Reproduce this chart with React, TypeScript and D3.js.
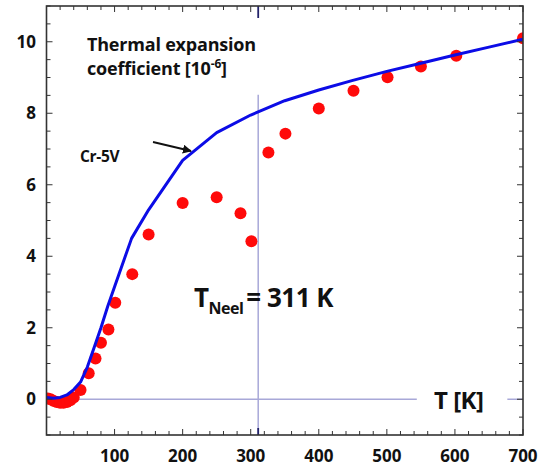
import React from "react"
import * as d3 from "d3"

const width = 548
const height = 470

// Cr-5V calculated curve
const curveT = [0, 10, 20, 30, 40, 50, 60, 70, 80, 90, 100, 125, 150, 200, 250, 300, 350, 400, 450, 500, 550, 600, 650, 700]
const curveV = [0.05, 0.03, 0.05, 0.12, 0.27, 0.48, 0.9, 1.45, 2.0, 2.6, 3.15, 4.5, 5.3, 6.68, 7.46, 7.95, 8.35, 8.65, 8.92, 9.17, 9.4, 9.63, 9.85, 10.07]

// measured points
const dotT = [2, 6, 10, 15, 20, 25, 30, 35, 40, 50, 62, 72, 80, 91, 101, 126, 150, 200, 250, 285, 301, 326, 351, 400, 451, 501, 550, 602, 700]
const dotV = [0.02, 0.0, -0.04, -0.08, -0.1, -0.1, -0.08, -0.03, 0.05, 0.26, 0.73, 1.14, 1.58, 1.95, 2.7, 3.5, 4.61, 5.49, 5.65, 5.2, 4.42, 6.9, 7.43, 8.13, 8.63, 9.01, 9.31, 9.61, 10.1]

const xMajor = [100, 200, 300, 400, 500, 600, 700]
const yMajor = [0, 2, 4, 6, 8, 10]

const tNeel = 311
const neelLineTop = 8.52
const zeroGapFrom = 544
const zeroGapTo = 677

const x = d3.scaleLinear().domain([0, 700]).range([46.5, 523])
const y = d3.scaleLinear().domain([-1, 11]).range([435, 6])

const font = "'Open Sans', Lato, sans-serif"
const frameColor = "#333"
const refColor = "#a8a8d8"

const line = d3.line<number>()
  .x((_, i) => x(curveT[i]))
  .y(d => y(d))

const xMinor = d3.range(0, 701, 20)
const yMinor = d3.range(-1, 11.01, 0.5)

export default function App() {
  const [x0, x1] = x.range()
  const [y0, y1] = y.range()
  return (
    <svg width={width} height={height} style={{ position: "absolute", left: 0, top: 0, background: "#fff" }}>
      <defs>
        <clipPath id="plot">
          <rect x={x0} y={y1} width={x1 - x0} height={y0 - y1} />
        </clipPath>
        <marker id="head" viewBox="0 0 10 10" refX="9" refY="5" markerWidth="5" markerHeight="5" orient="auto">
          <path d="M0,0 L10,5 L0,10 z" fill="#111" />
        </marker>
      </defs>

      {/* reference lines */}
      <line x1={x(0)} x2={x(zeroGapFrom)} y1={y(0)} y2={y(0)} stroke={refColor} strokeWidth={1.5} />
      <line x1={x(zeroGapTo)} x2={x(700)} y1={y(0)} y2={y(0)} stroke={refColor} strokeWidth={1.5} />
      <line x1={x(tNeel)} x2={x(tNeel)} y1={y(neelLineTop)} y2={y0} stroke={refColor} strokeWidth={1.5} />
      <line x1={x(tNeel)} x2={x(tNeel)} y1={y1} y2={y1 + 12} stroke="#22226a" strokeWidth={1.8} />
      <line x1={x(tNeel)} x2={x(tNeel)} y1={y0 - 7} y2={y0} stroke="#22226a" strokeWidth={1.8} />

      <g clipPath="url(#plot)">
        {dotT.map((t, i) => (
          <circle key={i} cx={x(t)} cy={y(dotV[i])} r={6} fill="#ff0a0a" />
        ))}
        <path d={line(curveV) ?? ""} fill="none" stroke="#0c0ce6" strokeWidth={3} strokeLinejoin="round" />
      </g>

      {/* frame and ticks */}
      <rect x={x0} y={y1} width={x1 - x0} height={y0 - y1} fill="none" stroke={frameColor} strokeWidth={1.6} />
      {xMinor.map(t => {
        const len = t % 100 === 0 ? 6 : 4
        return (
          <g key={"x" + t} stroke={frameColor} strokeWidth={1}>
            <line x1={x(t)} x2={x(t)} y1={y0} y2={y0 - len} />
            <line x1={x(t)} x2={x(t)} y1={y1} y2={y1 + len} />
          </g>
        )
      })}
      {yMinor.map(v => {
        const len = Math.abs(v % 2) < 1e-6 ? 6 : 4
        return (
          <g key={"y" + v} stroke={frameColor} strokeWidth={1}>
            <line x1={x0} x2={x0 + len} y1={y(v)} y2={y(v)} />
            <line x1={x1} x2={x1 - len} y1={y(v)} y2={y(v)} />
          </g>
        )
      })}

      {/* tick labels */}
      {xMajor.map(t => (
        <text key={"xl" + t} x={x(t)} y={y0 + 27} textAnchor="middle" fontFamily={font} fontWeight={700} fontSize={17} fill="#111">{t}</text>
      ))}
      {yMajor.map(v => (
        <text key={"yl" + v} x={36} y={y(v)} dy="0.35em" textAnchor="end" fontFamily={font} fontWeight={700} fontSize={17} fill="#111">{v}</text>
      ))}

      {/* annotations */}
      <text x={87} y={51} fontFamily={font} fontWeight={700} fontSize={18} fill="#111" letterSpacing={-0.2}>Thermal expansion</text>
      <text x={87} y={75} fontFamily={font} fontWeight={700} fontSize={18} fill="#111" letterSpacing={-0.2}>
        coefficient [10<tspan dy={-7} fontSize={12}>-6</tspan><tspan dy={7}>]</tspan>
      </text>
      <text x={80} y={162} fontFamily={font} fontWeight={700} fontSize={15.5} fill="#111" letterSpacing={-0.3}>Cr-5V</text>
      <line x1={153} y1={142} x2={191} y2={151} stroke="#111" strokeWidth={1.8} markerEnd="url(#head)" />

      <text x={194} y={307} fontFamily={font} fontWeight={700} fontSize={26} fill="#111" letterSpacing={-0.5}>
        T<tspan dy={7} fontSize={16}>Neel</tspan><tspan dy={-7} dx={3}>= 311 K</tspan>
      </text>
      <text x={434} y={409} fontFamily={font} fontWeight={700} fontSize={24} fill="#111" letterSpacing={-0.5}>T [K]</text>
    </svg>
  )
}
